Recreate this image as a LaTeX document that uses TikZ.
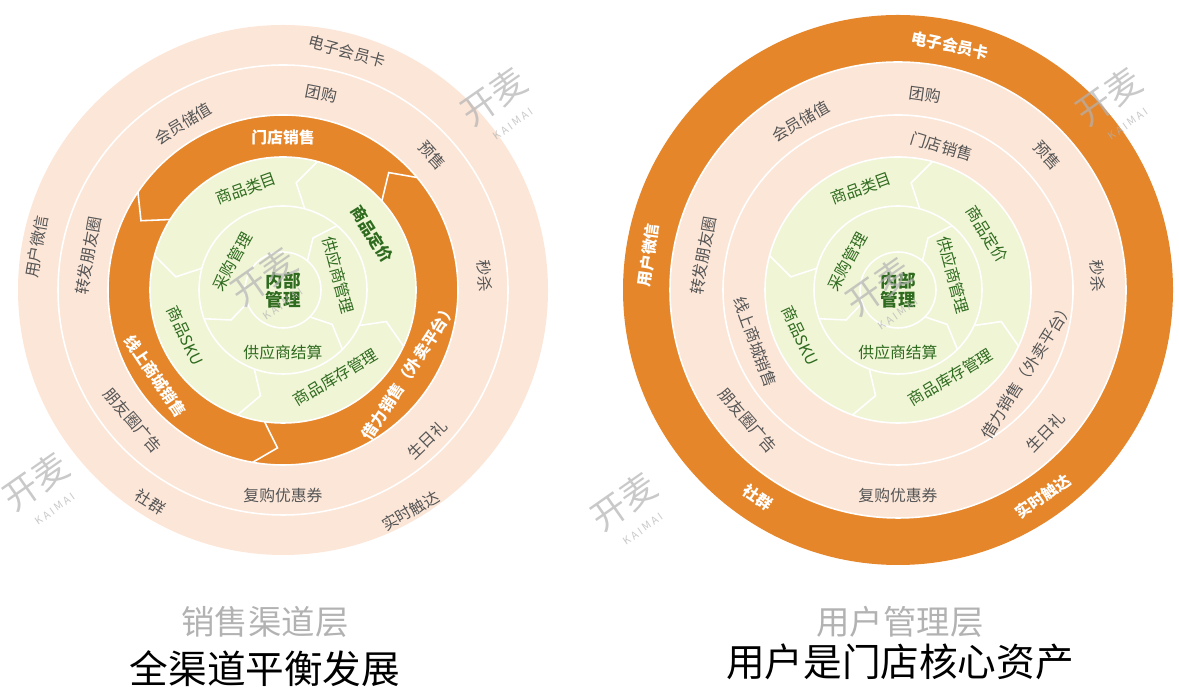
\documentclass[tikz,border=0pt]{standalone}
\usepackage{fontspec}
\setmainfont{Noto Sans CJK SC}
\usetikzlibrary{calc}
\definecolor{peach}{HTML}{FCE6D8}
\definecolor{orng}{HTML}{E5862A}
\definecolor{leaf}{HTML}{F0F5D6}
\definecolor{leaftext}{HTML}{2F6B1F}
\definecolor{greytext}{HTML}{555555}
\tikzset{
  ringline/.style={white, line width=0.9pt},
  outtext/.style={text=greytext, font=\fontsize{9}{9}\selectfont},
  intext/.style={text=leaftext, font=\fontsize{9}{9}\selectfont},
  orngtext/.style={text=white, font=\bfseries\fontsize{9}{9}\selectfont},
  mark text/.style={text=black!30, font=\fontsize{20}{20}\selectfont, rotate=35},
}
% label along a circle: centre, angle, radius, style, name, text
\newcommand{\ringlabel}[6]{%
  \pgfmathsetmacro{\rot}{#2<180 ? #2-90 : #2+90}%
  \node[#4, rotate=\rot, inner sep=0pt] (#5) at ($(#1)+(#2:#3)$) {#6};}
\newcommand{\kaimai}[2]{%
  \node[mark text, align=center, opacity=0.7] (#1) at (#2) {开麦\\[-6pt]{\fontsize{6}{6}\selectfont K A I M A I}};}
\begin{document}
\begin{tikzpicture}[x=0.02cm, y=0.02cm]
  \useasboundingbox (0,0) rectangle (1179,695);
  \coordinate (L) at (283,405);
  \coordinate (R) at (898,405);

  % left diagram
  \fill[peach] (L) circle (265);
  \draw[ringline] (L) circle (225);
  \fill[orng] (L) circle (175);
  \draw[ringline] (L) circle (175);
  \fill[leaf] (L) circle (133);
  \draw[ringline] (L) circle (133);
  \draw[ringline] (L) circle (84);
  \draw[ringline] (L) circle (38);
  \foreach \a in {42,148,262} {
    \draw[ringline] ($(L)+(\a:133)$) -- ($(L)+(\a+6:158)$) -- ($(L)+(\a-2:175)$);
  }
  \foreach \a in {75,165,250,335} {
    \draw[ringline] ($(L)+(\a:84)$) -- ($(L)+(\a+8:108)$) -- ($(L)+(\a:133)$);
  }
  \foreach \a in {50,200,315} {
    \draw[ringline] ($(L)+(\a:38)$) -- ($(L)+(\a+10:60)$) -- ($(L)+(\a:84)$);
  }
  \ringlabel{L}{75}{247}{outtext}{lcard}{电子会员卡}
  \ringlabel{L}{79}{200}{outtext}{lgroup}{团购}
  \ringlabel{L}{121}{194}{outtext}{lstore}{会员储值}
  \ringlabel{L}{42}{201}{outtext}{lpre}{预售}
  \ringlabel{L}{4}{202}{outtext}{lkill}{秒杀}
  \ringlabel{L}{170}{250}{outtext}{lwx}{用户微信}
  \ringlabel{L}{170}{198}{outtext}{lfwd}{转发朋友圈}
  \ringlabel{L}{221}{199}{outtext}{lad}{朋友圈广告}
  \ringlabel{L}{238}{250}{outtext}{lcomm}{社群}
  \ringlabel{L}{270}{205}{outtext}{lcoupon}{复购优惠券}
  \ringlabel{L}{300}{255}{outtext}{lreach}{实时触达}
  \ringlabel{L}{314}{208}{outtext}{lbday}{生日礼}
  \ringlabel{L}{90}{153}{orngtext}{lshop}{门店销售}
  \ringlabel{L}{214}{154}{orngtext}{lonline}{线上商城销售}
  \ringlabel{L}{327}{150}{orngtext}{lborrow}{借力销售（外卖平台）}
  \ringlabel{L}{110}{108}{intext}{lcat}{商品类目}
  \ringlabel{L}{32}{105}{intext}{lprice}{\bfseries 商品定价}
  \ringlabel{L}{205}{108}{intext}{lsku}{商品SKU}
  \ringlabel{L}{301}{102}{intext}{lstock}{商品库存管理}
  \ringlabel{L}{151}{58}{intext}{lbuy}{采购管理}
  \ringlabel{L}{15}{57}{intext}{lsup}{供应商管理}
  \ringlabel{L}{270}{62}{intext}{lsettle}{供应商结算}
  \node[intext, font=\bfseries\fontsize{10}{11}\selectfont, align=center] (lcore) at (L) {内部\\管理};

  % right diagram
  \fill[orng] (R) circle (275);
  \fill[peach] (R) circle (228);
  \draw[ringline] (R) circle (228);
  \draw[ringline] (R) circle (175);
  \fill[leaf] (R) circle (133);
  \draw[ringline] (R) circle (133);
  \draw[ringline] (R) circle (84);
  \draw[ringline] (R) circle (38);
  \foreach \a in {75,165,250,335} {
    \draw[ringline] ($(R)+(\a:84)$) -- ($(R)+(\a+8:108)$) -- ($(R)+(\a:133)$);
  }
  \foreach \a in {50,200,315} {
    \draw[ringline] ($(R)+(\a:38)$) -- ($(R)+(\a+10:60)$) -- ($(R)+(\a:84)$);
  }
  \ringlabel{R}{78}{250}{orngtext}{rcard}{电子会员卡}
  \ringlabel{R}{82}{197}{outtext}{rgroup}{团购}
  \ringlabel{R}{120}{195}{outtext}{rstore}{会员储值}
  \ringlabel{R}{73}{150}{outtext}{rshop}{门店销售}
  \ringlabel{R}{42}{201}{outtext}{rpre}{预售}
  \ringlabel{R}{4}{200}{outtext}{rkill}{秒杀}
  \ringlabel{R}{172}{252}{orngtext}{rwx}{用户微信}
  \ringlabel{R}{170}{198}{outtext}{rfwd}{转发朋友圈}
  \ringlabel{R}{200}{152}{outtext}{ronline}{线上商城销售}
  \ringlabel{R}{221}{199}{outtext}{rad}{朋友圈广告}
  \ringlabel{R}{236}{250}{orngtext}{rcomm}{社群}
  \ringlabel{R}{270}{205}{outtext}{rcoupon}{复购优惠券}
  \ringlabel{R}{305}{252}{orngtext}{rreach}{实时触达}
  \ringlabel{R}{328}{152}{outtext}{rborrow}{借力销售（外卖平台）}
  \ringlabel{R}{316}{205}{outtext}{rbday}{生日礼}
  \ringlabel{R}{110}{108}{intext}{rcat}{商品类目}
  \ringlabel{R}{32}{105}{intext}{rprice}{商品定价}
  \ringlabel{R}{205}{108}{intext}{rsku}{商品SKU}
  \ringlabel{R}{301}{102}{intext}{rstock}{商品库存管理}
  \ringlabel{R}{151}{58}{intext}{rbuy}{采购管理}
  \ringlabel{R}{15}{57}{intext}{rsup}{供应商管理}
  \ringlabel{R}{270}{62}{intext}{rsettle}{供应商结算}
  \node[intext, font=\bfseries\fontsize{10}{11}\selectfont, align=center] (rcore) at (R) {内部\\管理};

  % watermarks
  \kaimai{m1}{500,590}
  \kaimai{m2}{270,410}
  \kaimai{m3}{42,205}
  \kaimai{m4}{1115,590}
  \kaimai{m5}{885,400}
  \kaimai{m6}{630,185}

  % titles
  \node[text=black!30, font=\fontsize{19}{19}\selectfont] (ltitle) at (265,73) {销售渠道层};
  \node[font=\fontsize{22}{22}\selectfont] (lsub) at (265,26) {全渠道平衡发展};
  \node[text=black!30, font=\fontsize{19}{19}\selectfont] (rtitle) at (900,73) {用户管理层};
  \node[font=\fontsize{22}{22}\selectfont] (rsub) at (900,33) {用户是门店核心资产};
\end{tikzpicture}
\end{document}
